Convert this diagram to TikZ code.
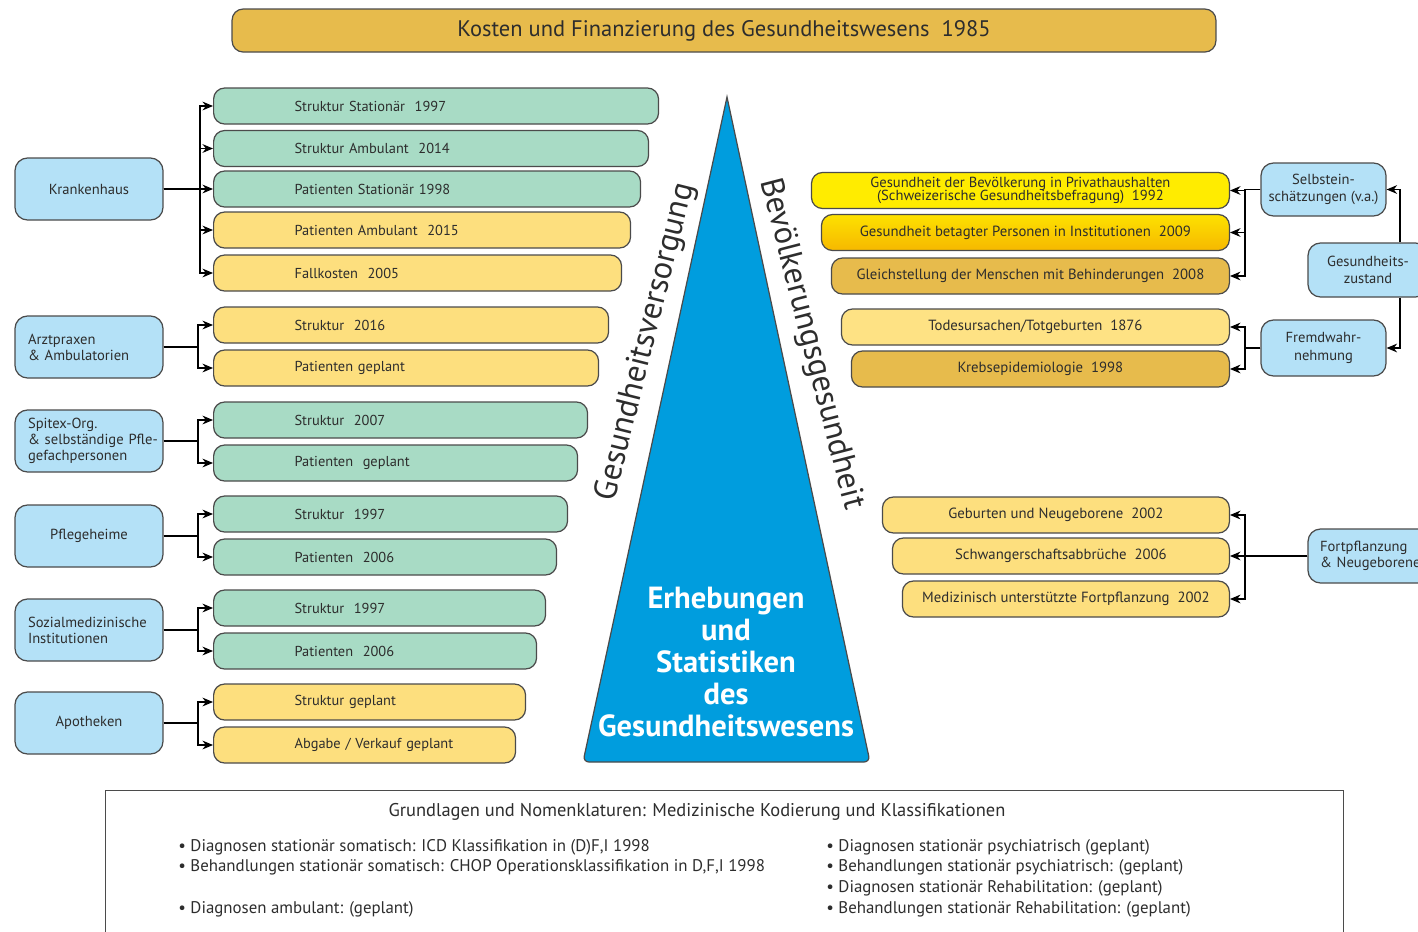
\documentclass[tikz,border=0pt]{standalone}
\usepackage{fontspec}
\setmainfont{PT Sans}
\usepackage{tikz}
\usetikzlibrary{arrows.meta, positioning, calc}
\definecolor{boxgreen}{RGB}{168,219,197}
\definecolor{boxyellow}{RGB}{253,223,126}
\definecolor{lightyellow}{RGB}{254,226,132}
\definecolor{boxgold}{RGB}{231,187,76}
\definecolor{boxblue}{RGB}{180,225,247}
\definecolor{pyramid}{RGB}{0,157,222}
\definecolor{brightyellow}{RGB}{255,236,0}
\definecolor{darkorange}{RGB}{246,184,0}
\definecolor{edgegray}{RGB}{75,75,75}
\definecolor{textgray}{RGB}{45,45,45}
\tikzset{
    roundbox/.style = {draw=edgegray, line width=0.7pt, rectangle, rounded corners=0.22cm, inner sep=0em,
      text=textgray, font=\fontsize{8.2}{9}\selectfont},
    itembox/.style = {roundbox, anchor=west, minimum height=0.72cm, align=left, text width=#1},
    databox/.style = {roundbox, anchor=east, minimum height=0.72cm, minimum width=#1, align=center,
      font=\fontsize{8.4}{9}\selectfont},
    groupbox/.style = {roundbox, fill=boxblue, minimum width=2.96cm, minimum height=1.24cm,
      rounded corners=0.25cm, align=center, font=\fontsize{8.3}{9}\selectfont},
    sidebox/.style = {groupbox, minimum width=2.5cm, font=\fontsize{8.3}{10}\selectfont},
    leftalign/.style = {align=left, text width=2.44cm, inner xsep=0.26cm},
    textnode/.style = {inner sep=0em, align=center, text=textgray},
    listnode/.style = {inner sep=0em, align=left, anchor=north west, text=textgray,
      font=\fontsize{9.6}{11.7}\selectfont},
    connect/.style = {black, line width=0.6pt, -{Stealth[length=6pt, width=5pt]}}
}
\newcommand{\indt}{\hspace*{1.62cm}}

\begin{document}
\begin{tikzpicture}[x=0.02cm, y=-0.02cm]
    \useasboundingbox (0,0) rectangle (1418,931);
    \clip (0,0) rectangle (1418,931);

    \node [name = TT, roundbox, fill=boxgold, minimum width=19.68cm, minimum height=0.86cm,
      font=\fontsize{12.8}{14}\selectfont] at (724,30.5) {Kosten und Finanzierung des Gesundheitswesens\ \ 1985};

    % pyramide
    \draw [draw=edgegray, line width=0.7pt, fill=pyramid] (727,97) [rounded corners=0.12cm] -- (870,762) -- (583,762) [sharp corners] -- cycle;
    \node [name = ES, textnode, text=white, font=\bfseries\fontsize{17.4}{18.2}\selectfont] at (726,662)
        {Erhebungen\\und\\Statistiken\\des\\Gesundheitswesens};
    \node [name = GV, textnode, rotate=76, font=\fontsize{18.5}{20}\selectfont] at (646,342) {Gesundheitsversorgung};
    \node [name = BG, textnode, rotate=-75.5, font=\fontsize{18.5}{20}\selectfont] at (811,344) {Bevölkerungsgesundheit};

    % Gesundheitsversorgung
    \node [name = KH, groupbox] at (89,189) {Krankenhaus};
    \node [name = AP, groupbox, leftalign] at (89,347) {Arztpraxen\\\& Ambulatorien};
    \node [name = SP, groupbox, leftalign] at (89,441) {Spitex-Org.\\\mbox{\& selbständige Pfle-}\\gefachpersonen};
    \node [name = PH, groupbox] at (89,536) {Pflegeheime};
    \node [name = SO, groupbox, leftalign] at (89,630) {\mbox{Sozialmedizinische}\\Institutionen};
    \node [name = AT, groupbox] at (89,723) {Apotheken};

    \node [name = s1, itembox=8.9cm, fill=boxgreen] at (213,106) {\indt Struktur Stationär\ \ 1997};
    \node [name = s2, itembox=8.7cm, fill=boxgreen] at (213,148.5) {\indt Struktur Ambulant\ \ 2014};
    \node [name = s3, itembox=8.54cm, fill=boxgreen] at (213,189) {\indt Patienten Stationär 1998};
    \node [name = s4, itembox=8.34cm, fill=boxyellow] at (213,230) {\indt Patienten Ambulant\ \ 2015};
    \node [name = s5, itembox=8.16cm, fill=boxyellow] at (213,273) {\indt Fallkosten\ \ 2005};
    \node [name = s6, itembox=7.9cm, fill=boxyellow] at (213,325) {\indt Struktur\ \ 2016};
    \node [name = s7, itembox=7.7cm, fill=boxyellow] at (213,368) {\indt Patienten geplant};
    \node [name = s8, itembox=7.48cm, fill=boxgreen] at (213,420) {\indt Struktur\ \ 2007};
    \node [name = s9, itembox=7.28cm, fill=boxgreen] at (213,463) {\indt Patienten\ \ geplant};
    \node [name = s10, itembox=7.08cm, fill=boxgreen] at (213,514) {\indt Struktur\ \ 1997};
    \node [name = s11, itembox=6.86cm, fill=boxgreen] at (213,557) {\indt Patienten\ \ 2006};
    \node [name = s12, itembox=6.64cm, fill=boxgreen] at (213,608) {\indt Struktur\ \ 1997};
    \node [name = s13, itembox=6.46cm, fill=boxgreen] at (213,651) {\indt Patienten\ \ 2006};
    \node [name = s14, itembox=6.24cm, fill=boxyellow] at (213,702) {\indt Struktur geplant};
    \node [name = s15, itembox=6.04cm, fill=boxyellow] at (213,745) {\indt Abgabe / Verkauf geplant};

    \draw [connect] (KH.east) -| ([xshift=-0.26cm]s1.west) -- (s1.west);
    \draw [connect] (KH.east) -| ([xshift=-0.26cm]s2.west) -- (s2.west);
    \draw [connect] (KH.east) -- (s3.west);
    \draw [connect] (KH.east) -| ([xshift=-0.26cm]s4.west) -- (s4.west);
    \draw [connect] (KH.east) -| ([xshift=-0.26cm]s5.west) -- (s5.west);
    \draw [connect] (AP.east) -| ([xshift=-0.3cm]s6.west) -- (s6.west);
    \draw [connect] (AP.east) -| ([xshift=-0.3cm]s7.west) -- (s7.west);
    \draw [connect] (SP.east) -| ([xshift=-0.3cm]s8.west) -- (s8.west);
    \draw [connect] (SP.east) -| ([xshift=-0.3cm]s9.west) -- (s9.west);
    \draw [connect] (PH.east) -| ([xshift=-0.3cm]s10.west) -- (s10.west);
    \draw [connect] (PH.east) -| ([xshift=-0.3cm]s11.west) -- (s11.west);
    \draw [connect] (SO.east) -| ([xshift=-0.3cm]s12.west) -- (s12.west);
    \draw [connect] (SO.east) -| ([xshift=-0.3cm]s13.west) -- (s13.west);
    \draw [connect] (AT.east) -| ([xshift=-0.3cm]s14.west) -- (s14.west);
    \draw [connect] (AT.east) -| ([xshift=-0.3cm]s15.west) -- (s15.west);

    % Bevoelkerungsgesundheit
    \node [name = r1, databox=8.36cm, fill=brightyellow, font=\fontsize{8.3}{7.8}\selectfont] at (1230,190.5)
        {Gesundheit der Bevölkerung in Privathaushalten\\(Schweizerische Gesundheitsbefragung)\ \ 1992};
    \node [name = r2, databox=8.16cm, top color=brightyellow!80!darkorange, bottom color=darkorange] at (1230,232.5)
        {Gesundheit betagter Personen in Institutionen\ \ 2009};
    \node [name = r3, databox=7.96cm, fill=boxgold] at (1230,276) {Gleichstellung der Menschen mit Behinderungen\ \ 2008};
    \node [name = r4, databox=7.76cm, fill=lightyellow] at (1230,327) {Todesursachen/Totgeburten\ \ 1876};
    \node [name = r5, databox=7.56cm, fill=boxgold] at (1230,369) {Krebsepidemiologie\ \ 1998};
    \node [name = r6, databox=6.94cm, fill=boxyellow] at (1230,515) {Geburten und Neugeborene\ \ 2002};
    \node [name = r7, databox=6.74cm, fill=boxyellow] at (1230,556) {Schwangerschaftsabbrüche\ \ 2006};
    \node [name = r8, databox=6.54cm, fill=boxyellow] at (1230,599) {Medizinisch unterstützte Fortpflanzung\ \ 2002};

    \node [name = SE, sidebox, minimum height=1.06cm] at (1323.5,189.5) {Selbstein-\\schätzungen (v.a.)};
    \node [name = GZ, sidebox, minimum width=2.4cm, minimum height=1.08cm] at (1368,270) {Gesundheits-\\zustand};
    \node [name = FW, sidebox, minimum height=1.12cm] at (1323.5,348) {Fremdwahr-\\nehmung};
    \node [name = FN, sidebox, minimum height=1.08cm, align=left, text width=2.02cm,
      inner xsep=0.24cm, font=\fontsize{8.3}{9}\selectfont] at (1370.5,556) {Fortpflanzung\\\mbox{\& Neugeborene}};

    \draw [connect] (SE.west) -| ([xshift=0.3cm]r1.east) -- (r1.east);
    \draw [connect] (SE.west) -| ([xshift=0.3cm]r2.east) -- (r2.east);
    \draw [connect] (SE.west) -| ([xshift=0.3cm]r3.east) -- (r3.east);
    \draw [connect] (FW.west) -| ([xshift=0.3cm]r4.east) -- (r4.east);
    \draw [connect] (FW.west) -| ([xshift=0.3cm]r5.east) -- (r5.east);
    \draw [connect] (FN.west) -| ([xshift=0.3cm]r6.east) -- (r6.east);
    \draw [connect] (FN.west) -- (r7.east);
    \draw [connect] (FN.west) -| ([xshift=0.3cm]r8.east) -- (r8.east);
    \draw [connect] ([xshift=0.64cm]GZ.north) |- (SE.east);
    \draw [connect] ([xshift=0.64cm]GZ.south) |- (FW.east);

    % Grundlagen
    \node [name = GN, draw=edgegray, line width=0.7pt, anchor=north west, minimum width=24.76cm,
      minimum height=4cm, inner sep=0em] at (105,790) {};
    \node [name = GNt, textnode, font=\fontsize{10.5}{12}\selectfont] at (697,812)
        {Grundlagen und Nomenklaturen: Medizinische Kodierung und Klassifikationen};
    \node [name = GNl, listnode] at (178,839)
        {\textbullet\ Diagnosen stationär somatisch: ICD Klassifikation in (D)F,I 1998\\
         \textbullet\ Behandlungen stationär somatisch: CHOP Operationsklassifikation in D,F,I 1998\\
         \strut\\
         \textbullet\ Diagnosen ambulant: (geplant)};
    \node [name = GNr, listnode] at (826,839)
        {\textbullet\ Diagnosen stationär psychiatrisch (geplant)\\
         \textbullet\ Behandlungen stationär psychiatrisch: (geplant)\\
         \textbullet\ Diagnosen stationär Rehabilitation: (geplant)\\
         \textbullet\ Behandlungen stationär Rehabilitation: (geplant)};
\end{tikzpicture}
\end{document}
